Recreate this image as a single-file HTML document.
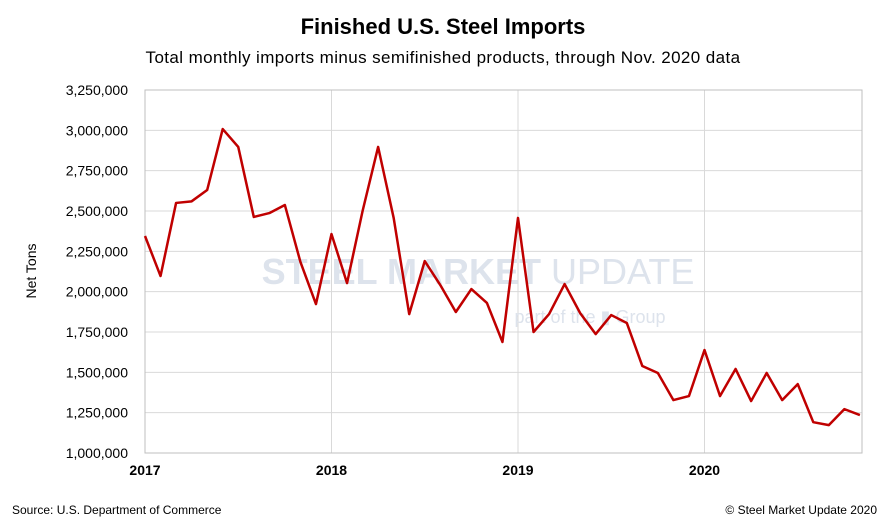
<!DOCTYPE html>
<html><head><meta charset="utf-8"><style>
body{margin:0;background:#fff;}
svg{display:block;font-family:"Liberation Sans",Arial,sans-serif;}
</style></head><body>
<svg id="chart" width="887" height="522">
<text x="443" y="34" text-anchor="middle" font-size="22" font-weight="bold" fill="#000">Finished U.S. Steel Imports</text>
<text x="443" y="63" text-anchor="middle" font-size="17" letter-spacing="0.4" fill="#000">Total monthly imports minus semifinished products, through Nov. 2020 data</text>
<text x="36" y="271" text-anchor="middle" font-size="14" fill="#000" transform="rotate(-90 36 271)">Net Tons</text>
<g id="grid"></g>
<text x="478" y="284" text-anchor="middle" font-size="36" font-weight="bold" fill="#dde3ec">STEEL MARKET <tspan font-weight="normal">UPDATE</tspan></text>
<text x="590" y="323" text-anchor="middle" font-size="18" fill="#dde3ec">part of the ▮ Group</text>
<g id="marks"></g>
<text x="12" y="514" font-size="12" fill="#000">Source: U.S. Department of Commerce</text>
<text x="877" y="514" text-anchor="end" font-size="12" fill="#000">© Steel Market Update 2020</text>
</svg>
<script>
const yearLabels=["2017","2018","2019","2020"];
const yTicks=[1000000,1250000,1500000,1750000,2000000,2250000,2500000,2750000,3000000,3250000];
const values=[2345000,2097000,2550000,2560000,2630000,3008000,2897000,2463000,2487000,2537000,2184000,1923000,
2357000,2053000,2500000,2897000,2457000,1861000,2190000,2041000,1874000,2016000,1930000,1688000,
2457000,1750000,1861000,2047000,1867000,1737000,1855000,1806000,1539000,1496000,1328000,1353000,
1638000,1353000,1521000,1322000,1496000,1328000,1427000,1191000,1173000,1272000,1235000];
const NS="http://www.w3.org/2000/svg";
const L=145,R=862,T=90,B=453;
const x=i=>L+i*(186.5/12);
const y=v=>B-(v-1000000)/2250000*(B-T);
const g=document.getElementById('grid'),m=document.getElementById('marks');
function el(t,a,p){const e=document.createElementNS(NS,t);for(const k in a)e.setAttribute(k,a[k]);p.appendChild(e);return e;}
yTicks.forEach(v=>{
 const l=el('line',{x1:L,x2:R,y1:y(v),y2:y(v),stroke:'#d9d9d9','stroke-width':1},g);
 
 
 const t=el('text',{x:L-17,y:y(v)+5,'text-anchor':'end','font-size':14,fill:'#000'},g);
 t.textContent=v.toLocaleString('en-US');
 
 
});
yearLabels.forEach((s,k)=>{
 const xx=x(k*12);
 if(k>0){const l=el('line',{x1:xx,x2:xx,y1:T,y2:B,stroke:'#d9d9d9'},g);
 
 }
 const t=el('text',{x:xx,y:B+22,'text-anchor':'middle','font-size':14,'font-weight':'bold',fill:'#000'},g);
 t.textContent=s;
 
 
});
const f=el('rect',{x:L,y:T,width:R-L,height:B-T,fill:'none',stroke:'#bfbfbf'},g);


const p=el('polyline',{points:values.map((v,i)=>x(i)+','+y(v)).join(' '),fill:'none',stroke:'#c00000','stroke-width':2.5,'stroke-linejoin':'round'},m);


</script>
</body></html>
